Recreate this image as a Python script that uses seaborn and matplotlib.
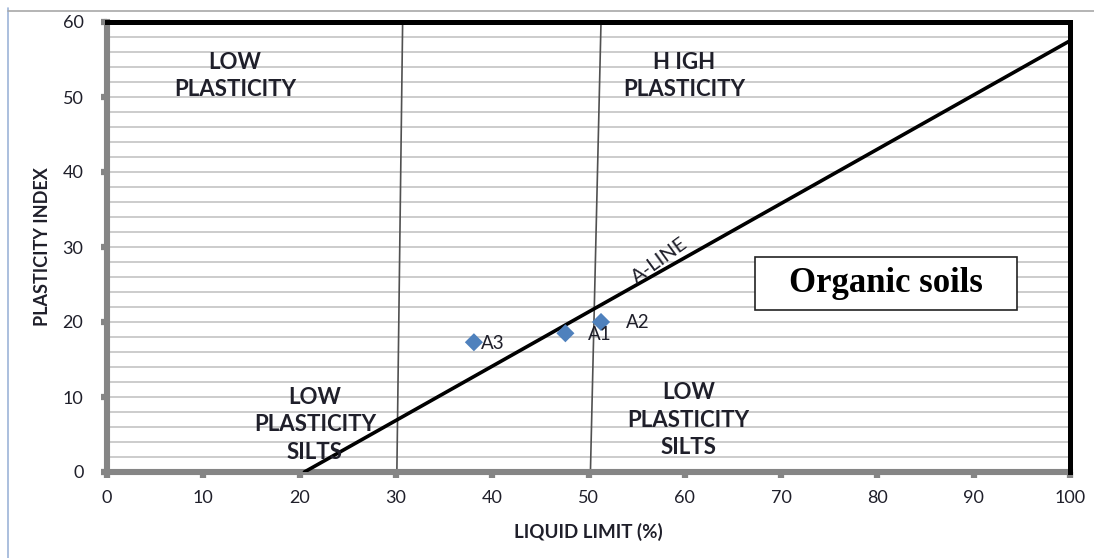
import matplotlib
matplotlib.use("Agg")
import matplotlib.pyplot as plt
from matplotlib.lines import Line2D
from matplotlib.patches import Rectangle
import seaborn as sns
import pandas as pd

# ---- data ----
samples = ["A1", "A2", "A3"]
liquid_limit = [47.6, 51.3, 38.1]
plasticity_index = [18.5, 20.0, 17.3]

aline_ll = [20.5, 100.0]
aline_pi = [0.0, 57.5]

divider1_ll = [30.7, 30.1]
divider1_pi = [60.0, 0.0]
divider2_ll = [51.3, 50.2]
divider2_pi = [60.0, 0.0]

x_ticks = [0, 10, 20, 30, 40, 50, 60, 70, 80, 90, 100]
y_ticks = [0, 10, 20, 30, 40, 50, 60]

sns.set_theme(style="white")
plt.rcParams["font.family"] = ["Lato", "DejaVu Sans"]

fig = plt.figure(figsize=(10.94, 5.58), dpi=100)
ax = fig.add_axes([107 / 1094, 1 - 472 / 558, (1070 - 107) / 1094, (472 - 22) / 558])

txt = "#1f1f2a"

# gridlines every 2 units
ax.set_yticks(y_ticks)
ax.set_yticks([v for v in range(0, 61, 2) if v % 10], minor=True)
ax.grid(True, axis="y", which="both", color="#bfbfbf", lw=1.1, zorder=0)
ax.grid(False, axis="x")

# divider lines
ax.plot(divider1_ll, divider1_pi, color="#505050", lw=1.2, zorder=1)
ax.plot(divider2_ll, divider2_pi, color="#505050", lw=1.2, zorder=1)

# A-line
df_line = pd.DataFrame({"LL": aline_ll, "PI": aline_pi})
sns.lineplot(data=df_line, x="LL", y="PI", color="black", lw=2.6, ax=ax, zorder=3)

# samples
df = pd.DataFrame({"sample": samples, "LL": liquid_limit, "PI": plasticity_index})
sns.scatterplot(data=df, x="LL", y="PI", marker="D", s=85, color="#4f81bd",
                edgecolor="none", ax=ax, zorder=4, legend=False)
offsets = {"A1": (16, -1), "A2": (18, 0), "A3": (5, -1)}
for s, x, y in zip(samples, liquid_limit, plasticity_index):
    ax.annotate(s, (x, y), xytext=offsets[s], textcoords="offset points",
                ha="left", va="center", fontsize=13.5, color=txt, zorder=5)

ax.set_xlim(0, 100)
ax.set_ylim(0, 60)
ax.set_xticks(x_ticks)

# region labels
rl = dict(ha="center", va="center", fontsize=16, fontweight="bold", color=txt,
          linespacing=1.38, zorder=5)
ax.text(13.3, 52.8, "LOW\nPLASTICITY", **rl)
ax.text(59.9, 52.8, "H IGH\nPLASTICITY", **rl)
ax.text(21.6, 6.3, "LOW\nPLASTICITY\nSILTS", **rl)
ax.text(60.4, 6.9, "LOW\nPLASTICITY\nSILTS", **rl)

ax.text(57.4, 28.2, "A-LINE", rotation=36, rotation_mode="anchor",
        ha="center", va="center", fontsize=14.5, color=txt, zorder=5)

# organic soils box
ax.add_patch(Rectangle((67.3, 21.6), 27.2, 7.1, facecolor="white",
                       edgecolor="#222222", lw=1.2, zorder=5))
ax.text(80.9, 25.2, "Organic soils", ha="center", va="center", fontsize=25,
        fontweight="bold", family=["Liberation Serif", "DejaVu Serif"],
        color="black", zorder=6)

# spines
for side in ["left", "bottom"]:
    ax.spines[side].set_color("#858585")
    ax.spines[side].set_linewidth(4.4)
for side in ["top", "right"]:
    ax.spines[side].set_color("black")
    ax.spines[side].set_linewidth(3.6)
    ax.spines[side].set_zorder(7)

ax.tick_params(axis="both", which="major", length=4, width=4.5, color="#858585",
               labelsize=13, labelcolor=txt, left=True, bottom=True)
ax.tick_params(axis="y", which="minor", length=0)
ax.tick_params(axis="y", pad=13)
ax.tick_params(axis="x", pad=9)

ax.set_xlabel("LIQUID LIMIT (%)", fontsize=13.5, fontweight="bold", color=txt, labelpad=12)
ax.set_ylabel("PLASTICITY INDEX", fontsize=13, fontweight="bold", color=txt, labelpad=8)

# outer chart frame
fig.add_artist(Line2D([8 / 1094, 8 / 1094], [0, 1 - 8 / 558], color="#9db4d8", lw=1.2))
fig.add_artist(Line2D([8 / 1094, 1], [1 - 11 / 558, 1 - 11 / 558], color="#a8a8a8", lw=1.2))

fig.savefig("out.png", dpi=100)
